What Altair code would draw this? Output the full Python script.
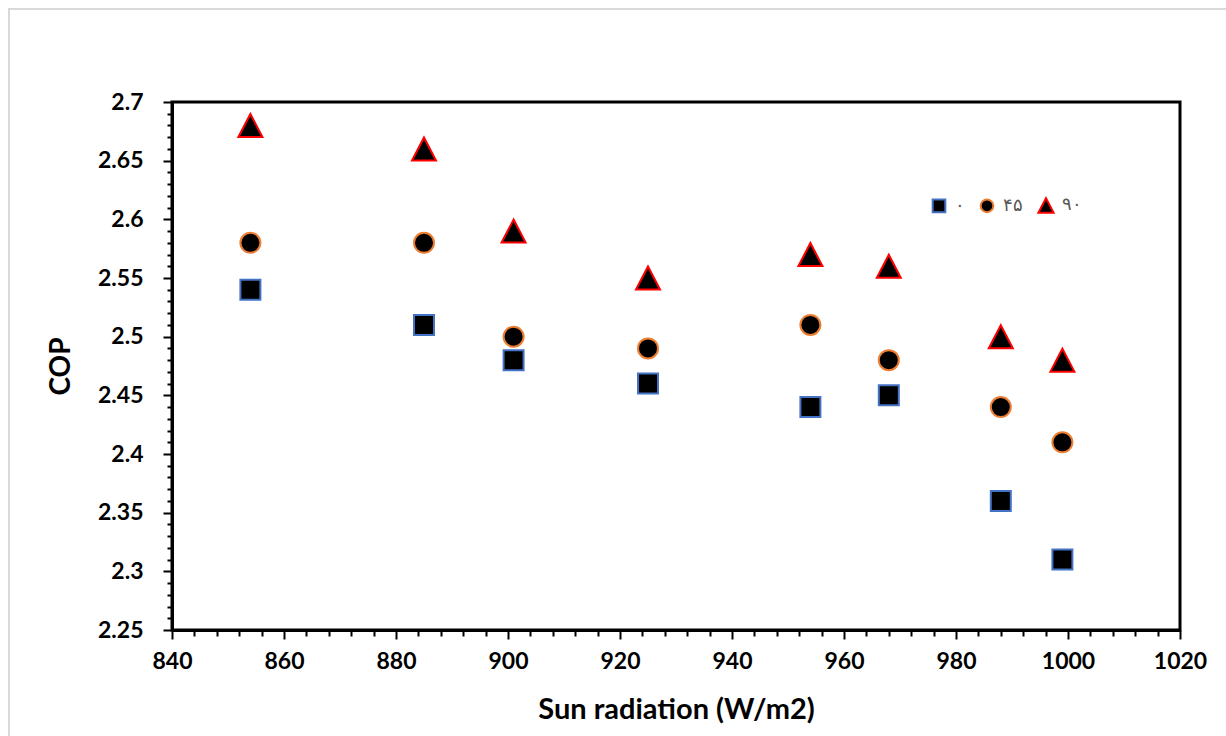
import altair as alt
import pandas as pd

radiation = [854, 885, 901, 925, 954, 968, 988, 999]
cop_0 = [2.54, 2.51, 2.48, 2.46, 2.44, 2.45, 2.36, 2.31]
cop_45 = [2.58, 2.58, 2.50, 2.49, 2.51, 2.48, 2.44, 2.41]
cop_90 = [2.68, 2.66, 2.59, 2.55, 2.57, 2.56, 2.50, 2.48]
series_names = ["۰", "۴۵", "۹۰"]
series_shapes = ["square", "circle", "M0,-1.15L1.2,1.15L-1.2,1.15Z"]
series_strokes = ["#4472C4", "#ED7D31", "#FF0000"]

x_ticks = list(range(840, 1021, 4))
y_ticks = [round(2.25 + 0.01 * i, 2) for i in range(46)]

rows = []
for name, vals in zip(series_names, [cop_0, cop_45, cop_90]):
    for xv, yv in zip(radiation, vals):
        rows.append({"x": xv, "y": yv, "series": name})
df = pd.DataFrame(rows)

FONT = "Lato"

x_enc = alt.X(
    "x:Q",
    scale=alt.Scale(domain=[840, 1020], nice=False, zero=False),
    axis=alt.Axis(
        title="Sun radiation (W/m2)",
        values=x_ticks,
        format="d",
        labelExpr="datum.value % 20 === 0 ? datum.label : ''",
        tickSize={"condition": {"test": "datum.value % 20 === 0", "value": 9}, "value": 6},
        labelOverlap=False,
        labelFlush=False,
        labelPadding=11,
        titlePadding=22,
        titleFontSize=29,
    ),
)
y_enc = alt.Y(
    "y:Q",
    scale=alt.Scale(domain=[2.25, 2.7], nice=False, zero=False),
    axis=alt.Axis(
        title="COP",
        values=y_ticks,
        labelExpr="abs(round(datum.value*100)) % 5 === 0 ? format(datum.value, '.2~f') : ''",
        tickSize={"condition": {"test": "abs(round(datum.value*100)) % 5 === 0", "value": 9}, "value": 5},
        labelOverlap=False,
        labelFlush=False,
        labelPadding=20,
        titlePadding=22,
    ),
)

legend = alt.Legend(
    title=None,
    orient="none",
    direction="horizontal",
    legendX=758,
    legendY=94,
    labelFont=FONT,
    labelFontSize=18,
    labelColor="#595959",
    symbolSize=160,
    symbolFillColor="black",
    symbolStrokeWidth=2,
    columnPadding=11,
    labelOffset=7,
)

points = alt.Chart(df).mark_point(
    filled=True, fill="black", strokeWidth=2, opacity=1, size=400
).encode(
    x=x_enc,
    y=y_enc,
    shape=alt.Shape(
        "series:N",
        scale=alt.Scale(domain=series_names, range=series_shapes),
        legend=legend,
    ),
    stroke=alt.Stroke(
        "series:N",
        scale=alt.Scale(domain=series_names, range=series_strokes),
        legend=legend,
    ),
)

border = alt.Chart(pd.DataFrame({"a": [0]})).mark_rect(
    fill=None, stroke="#d9d9d9", strokeWidth=2
).encode(
    x=alt.value(-163),
    x2=alt.value(1070),
    y=alt.value(-93),
    y2=alt.value(650),
)

chart = alt.layer(border, points).properties(
    width=1008,
    height=528,
    autosize=alt.AutoSizeParams(type="none"),
    padding={"left": 172, "top": 102, "right": 46, "bottom": 106},
    background="white",
).configure_view(
    stroke="black", strokeWidth=3
).configure_axis(
    grid=False,
    domainColor="black",
    domainWidth=3,
    tickColor="black",
    tickWidth=2,
    labelFont=FONT,
    labelFontSize=23,
    labelFontWeight="bold",
    labelColor="black",
    titleFont=FONT,
    titleFontSize=28,
    titleFontWeight="bold",
    titleColor="black",
)

chart.save("out.html", embed_options={"renderer": "svg", "actions": False})
